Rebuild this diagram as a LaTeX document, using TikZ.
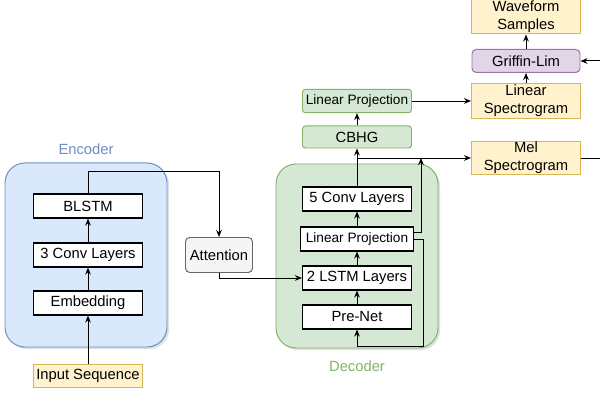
\documentclass[tikz,border=0pt]{standalone}
\usepackage{fontspec}
\setmainfont{Liberation Sans}
\usetikzlibrary{arrows.meta,shadows}

\definecolor{encfill}{HTML}{DAE8FC}
\definecolor{encline}{HTML}{6C8EBF}
\definecolor{decfill}{HTML}{D5E8D4}
\definecolor{decline}{HTML}{82B366}
\definecolor{iofill}{HTML}{FFF2CC}
\definecolor{ioline}{HTML}{D6B656}
\definecolor{glfill}{HTML}{E1D5E7}
\definecolor{glline}{HTML}{9673A6}
\definecolor{attfill}{HTML}{F5F5F5}
\definecolor{attline}{HTML}{666666}

\begin{document}
\begin{tikzpicture}[>={Stealth[length=5pt,width=4pt]},
  every node/.style={font=\fontsize{10.5}{12}\selectfont},
  layer/.style={draw=black, line width=0.8pt, fill=white, minimum width=2.725cm, minimum height=0.6cm, inner sep=0pt},
  group/.style={line width=0.7pt, rounded corners=0.5cm, drop shadow={shadow xshift=1.5pt, shadow yshift=-1.5pt, opacity=0.25}},
  io/.style={draw=ioline, fill=iofill, line width=0.7pt, minimum width=2.725cm, inner sep=0pt, align=center, font=\fontsize{10.5}{12.6}\selectfont},
  green box/.style={draw=decline, fill=decfill, line width=0.7pt, rounded corners=2pt, minimum width=2.725cm, minimum height=0.58cm, inner sep=0pt},
  link/.style={->, line width=0.7pt}]
  \useasboundingbox (0,0) rectangle (15,9.85);

  % encoder and decoder frames
  \node[group, draw=encline, fill=encfill, minimum width=4.05cm, minimum height=4.6cm] (encoder) at (2.15,3.475) {};
  \node[text=encline] (enclabel) at (2.15,6.125) {Encoder};
  \node[group, draw=decline, fill=decfill, minimum width=4.05cm, minimum height=4.6cm] (decoder) at (8.925,3.45) {};
  \node[text=decline] (declabel) at (8.925,0.7) {Decoder};

  % encoder stack
  \node[io, minimum height=0.575cm] (input) at (2.2,0.45) {Input Sequence};
  \node[layer] (embed) at (2.2,2.275) {Embedding};
  \node[layer] (conv3) at (2.2,3.475) {3 Conv Layers};
  \node[layer] (blstm) at (2.2,4.7) {BLSTM};

  % attention
  \node[draw=attline, fill=attfill, line width=0.7pt, rounded corners=3pt, minimum width=1.675cm, minimum height=0.875cm, inner sep=0pt] (att) at (5.475,3.475) {Attention};

  % decoder stack
  \node[layer] (prenet) at (8.925,1.925) {Pre-Net};
  \node[layer] (lstm) at (8.925,2.9) {2 LSTM Layers};
  \node[layer, minimum width=2.825cm, font=\fontsize{9.7}{11}\selectfont] (lpin) at (8.925,3.875) {Linear Projection};
  \node[layer] (conv5) at (8.925,4.875) {5 Conv Layers};

  % post-net
  \node[green box, minimum height=0.55cm] (cbhg) at (8.925,6.425) {CBHG};
  \node[green box, font=\fontsize{9.7}{11}\selectfont] (lpout) at (8.925,7.325) {Linear Projection};

  % outputs
  \node[io, minimum height=0.825cm] (mel) at (13.15,5.9) {Mel\\Spectrogram};
  \node[io, minimum height=0.875cm] (linspec) at (13.15,7.325) {Linear\\Spectrogram};
  \node[draw=glline, fill=glfill, line width=0.7pt, rounded corners=3pt, minimum width=2.7cm, minimum height=0.575cm, inner sep=0pt] (griffin) at (13.15,8.325) {Griffin-Lim};
  \node[io, minimum height=0.85cm] (wave) at (13.15,9.425) {Waveform\\Samples};

  % encoder connections
  \draw[link] (input) -- (embed);
  \draw[link] (embed) -- (conv3);
  \draw[link] (conv3) -- (blstm);
  \draw[link] (blstm.north) -- ++(0,0.55) -| (att.north);
  \draw[link] (att.south) |- (lstm.west);

  % decoder connections
  \draw[link] (prenet) -- (lstm);
  \draw[link] (lstm) -- (lpin);
  \draw[link] (lpin) -- (conv5);
  \draw[link] (conv5) -- (cbhg);
  \draw[link] (cbhg) -- (lpout);
  \coordinate (split) at (conv5.north |- mel.west);
  \coordinate (stop) at (10.525,5.9);
  \draw[link] (split) -- (mel.west);
  \draw[link] ([yshift=0.175cm]lpin.east) -| (stop);
  \draw[link] (lpin.east) -- ++(0.2375,0) |- ([yshift=-0.425cm]prenet.south) -- (prenet.south);

  % vocoder side
  \draw[link] (lpout) -- (linspec);
  \draw[link] (linspec) -- (griffin);
  \draw[link] (griffin) -- (wave);
  \coordinate (melout) at (15,5.9);
  \coordinate (glin) at (15,8.325);
  \draw[line width=0.7pt] (mel.east) -- (melout);
  \draw[link] (glin) -- (griffin.east);
\end{tikzpicture}
\end{document}
